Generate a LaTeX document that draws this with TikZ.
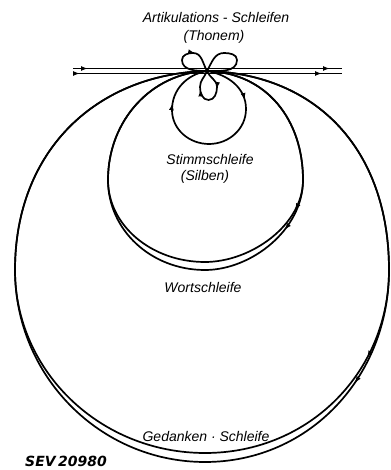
\documentclass[tikz,border=0pt]{standalone}
\usepackage{fontspec}
\setmainfont{Liberation Sans}
\newfontfamily\stempel{DejaVu Sans Bold Oblique}
\usetikzlibrary{arrows.meta,decorations.markings}
\tikzset{
  linie/.style={line width=1.7pt},
  pfeil/.style={postaction={decorate,decoration={markings,
      mark=at position #1 with {\arrow{Latex[length=7pt,width=5pt]}}}}},
  schrift/.style={anchor=base,inner sep=0pt,font=\fontsize{14}{16}\selectfont\itshape},
}

\begin{document}
\begin{tikzpicture}[x=1pt,y=1pt]
  \useasboundingbox (0,0) rectangle (390,470);
  \coordinate (T) at (207,399);
  \coordinate (Oa) at (73,401.5);
  \coordinate (Ob) at (342,401.5);
  \coordinate (Ua) at (73,396.5);
  \coordinate (Ub) at (342,396.5);
  \coordinate (SL) at (172,360);
  \coordinate (SR) at (246,361);
  \coordinate (SB) at (209,326);
  \coordinate (WL) at (108,290);
  \coordinate (WR) at (303,290);
  \coordinate (WB) at (205,200);
  \coordinate (WBi) at (205,208);
  \coordinate (GL) at (15,200);
  \coordinate (GR) at (389,200);
  \coordinate (GB) at (205,8);
  \coordinate (GBi) at (205,17);
  \coordinate (PL) at (200,383);
  \coordinate (PR) at (217,383);
  \coordinate (PB) at (208.5,370);
  \coordinate (AL) at (182,410);
  \coordinate (AO) at (193,417);
  \coordinate (BR) at (237,410);
  \coordinate (BO) at (224,417);

  % Leitung
  \draw[linie,pfeil=15pt,pfeil=257pt] (Oa) -- (Ob);
  \draw[linie,pfeil=7pt,pfeil=249pt] (Ua) -- (Ub);

  % Artikulation
  \draw[linie,pfeil=0.68] (T) to[out=180,in=-90] (AL) to[out=90,in=180] (AO) to[out=0,in=120] (T);
  \draw[linie] (T) to[out=60,in=180] (BO) to[out=0,in=90] (BR) to[out=-90,in=0] (T);
  \draw[linie,pfeil=0.3,pfeil=0.72] (T) to[out=-70,in=90] (PR) to[out=-90,in=0] (PB)
    to[out=180,in=-90] (PL) to[out=90,in=-110] (T);

  % Stimme
  \draw[linie,pfeil=0.22,pfeil=0.78] (T) to[out=-10,in=90] (SR) to[out=-90,in=0] (SB)
    to[out=180,in=-90] (SL) to[out=90,in=190] (T);

  % Wort
  \draw[linie,pfeil=0.35] (T) .. controls (267,397) and (303,350) .. (WR)
    .. controls (303,240) and (251,200) .. (WB)
    .. controls (151,200) and (108,240) .. (WL)
    .. controls (108,350) and (152,397) .. (T);
  \draw[linie,pfeil=0.32] (T) .. controls (267,397) and (303,350) .. (WR)
    .. controls (303,245) and (251,208) .. (WBi)
    .. controls (151,208) and (108,245) .. (WL)
    .. controls (108,350) and (152,397) .. (T);

  % Gedanke
  \draw[linie,pfeil=0.35] (T) .. controls (317,396) and (389,320) .. (GR)
    .. controls (389,94) and (310,8) .. (GB)
    .. controls (100,8) and (15,94) .. (GL)
    .. controls (15,320) and (97,396) .. (T);
  \draw[linie,pfeil=0.33] (T) .. controls (317,396) and (389,320) .. (GR)
    .. controls (389,99) and (310,17) .. (GBi)
    .. controls (100,17) and (15,99) .. (GL)
    .. controls (15,320) and (97,396) .. (T);

  \node[schrift] (artik) at (216,447) {Artikulations - Schleifen};
  \node[schrift] (thonem) at (214,429) {(Thonem)};
  \node[schrift] (stimm) at (210,305) {Stimmschleife};
  \node[schrift] (silben) at (205,289) {(Silben)};
  \node[schrift] (wort) at (203,177) {Wortschleife};
  \node[schrift] (gedanken) at (206,28) {Gedanken · Schleife};
  \node[schrift,font=\fontsize{14}{16}\selectfont\stempel] (sev) at (66,3) {SEV\,20980};
\end{tikzpicture}
\end{document}
